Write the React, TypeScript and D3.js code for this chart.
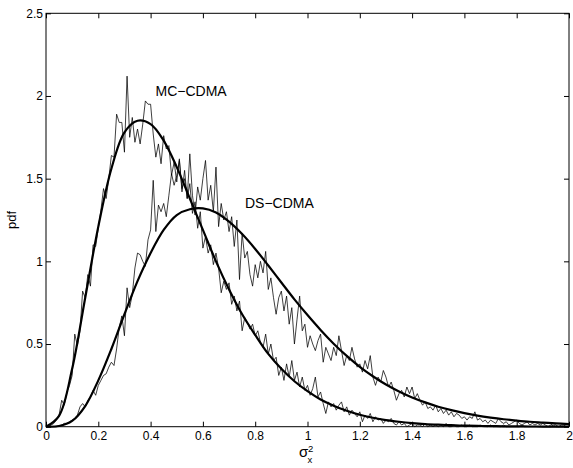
import * as d3 from "d3";
import { useRef, useEffect } from "react";

// x grid of the histogram bins and of the analytic curves
const binWidth = 0.01;
const curveStep = 0.05;

// analytic pdfs, sampled every 0.05 from 0 to 2
const mcTheory = [
  0, 0.066, 0.35, 0.78, 1.21, 1.56, 1.78, 1.85, 1.83, 1.73,
  1.57, 1.38, 1.19, 1.0, 0.83, 0.68, 0.555, 0.44, 0.35, 0.275,
  0.215, 0.165, 0.127, 0.096, 0.072, 0.054, 0.04, 0.03, 0.022, 0.016,
  0.012, 0.009, 0.0065, 0.0048, 0.0035, 0.0025, 0.0018, 0.0013, 0.0009, 0.0006,
  0.0004,
];
const dsTheory = [
  0, 0.004, 0.035, 0.125, 0.28, 0.47, 0.68, 0.88, 1.05, 1.19,
  1.28, 1.315, 1.32, 1.295, 1.24, 1.165, 1.075, 0.975, 0.872, 0.77,
  0.675, 0.585, 0.502, 0.428, 0.362, 0.305, 0.255, 0.213, 0.177, 0.147,
  0.121, 0.1, 0.082, 0.067, 0.055, 0.045, 0.037, 0.03, 0.025, 0.02,
  0.016,
];

// simulated histograms, one value per 0.01 bin from 0 to 1.99
const mcSim = [
  0, 0, 0.01, 0.02, 0.04, 0.07, 0.16, 0.13, 0.21, 0.25,
  0.31, 0.56, 0.49, 0.58, 0.82, 0.78, 0.92, 0.85, 1.1, 1.09,
  1.2, 1.31, 1.44, 1.38, 1.5, 1.64, 1.63, 1.89, 1.84, 1.84,
  1.66, 2.12, 1.75, 1.87, 1.72, 1.8, 1.71, 1.83, 1.97, 1.95,
  1.95, 1.77, 1.63, 1.71, 1.59, 1.76, 1.68, 1.7, 1.52, 1.6,
  1.48, 1.62, 1.42, 1.55, 1.38, 1.47, 1.29, 1.36, 1.2, 1.3,
  1.08, 1.15, 1.05, 1.1, 0.98, 1.05, 0.96, 0.81, 0.88, 0.83,
  0.87, 0.74, 0.79, 0.7, 0.76, 0.58, 0.66, 0.63, 0.59, 0.62,
  0.55, 0.58, 0.51, 0.48, 0.56, 0.44, 0.5, 0.4, 0.42, 0.31,
  0.36, 0.28, 0.38, 0.3, 0.4, 0.28, 0.33, 0.24, 0.3, 0.22,
  0.25, 0.19, 0.23, 0.3, 0.18, 0.21, 0.14, 0.08, 0.15, 0.12,
  0.14, 0.1, 0.13, 0.15, 0.09, 0.12, 0.07, 0.1, 0.08, 0.06,
  0.09, 0.03, 0.07, 0.05, 0.08, 0.03, 0.06, 0.04, 0.05, 0.02,
  0.04, 0.03, 0.05, 0.02, 0.01, 0.03, 0.01, 0.02, 0, 0.01,
  0.02, 0, 0.01, 0.01, 0, 0.02, 0, 0.01, 0, 0.01,
  0, 0.01, 0, 0.02, 0, 0, 0.01, 0, 0, 0.01,
  0, 0, 0.01, 0, 0, 0, 0.01, 0, 0, 0,
  0.01, 0, 0, 0, 0, 0.01, 0, 0, 0, 0,
  0, 0, 0.01, 0, 0, 0, 0, 0, 0, 0,
  0, 0, 0, 0, 0.01, 0, 0, 0, 0, 0,
];
const dsSim = [
  0, 0, 0, 0, 0, 0.005, 0.01, 0.02, 0.02, 0.03,
  0.04, 0.05, 0.07, 0.12, 0.14, 0.12, 0.16, 0.18, 0.22, 0.19,
  0.25, 0.28, 0.31, 0.32, 0.36, 0.39, 0.37, 0.47, 0.6, 0.67,
  0.55, 0.84, 0.72, 0.8, 0.96, 1.05, 1.04, 1.0, 0.97, 1.13,
  1.19, 1.49, 1.18, 1.34, 1.3, 1.35, 1.27, 1.4, 1.53, 1.46,
  1.52, 1.61, 1.44, 1.5, 1.38, 1.65, 1.4, 1.28, 1.45, 1.37,
  1.5, 1.61, 1.37, 1.46, 1.3, 1.57, 1.21, 1.35, 1.25, 1.3,
  1.18, 1.27, 1.09, 1.25, 0.89, 1.17, 1.02, 1.06, 0.92, 0.85,
  0.98, 0.9, 1.0, 0.93, 1.06, 0.83, 0.9, 0.78, 0.68, 0.78,
  0.82, 0.7, 0.79, 0.62, 0.72, 0.5, 0.65, 0.79, 0.58, 0.62,
  0.48, 0.55, 0.5, 0.46, 0.52, 0.56, 0.39, 0.48, 0.44, 0.4,
  0.48, 0.43, 0.55, 0.46, 0.37, 0.43, 0.4, 0.48, 0.41, 0.36,
  0.38, 0.33, 0.4, 0.35, 0.43, 0.3, 0.25, 0.3, 0.27, 0.34,
  0.3, 0.24, 0.27, 0.22, 0.16, 0.2, 0.22, 0.18, 0.24, 0.2,
  0.24, 0.17, 0.2, 0.16, 0.13, 0.15, 0.11, 0.12, 0.1, 0.13,
  0.09, 0.11, 0.08, 0.1, 0.07, 0.09, 0.06, 0.08, 0.07, 0.05,
  0.06, 0.04, 0.06, 0.05, 0.09, 0.04, 0.05, 0.03, 0.04, 0.02,
  0.04, 0.03, 0.02, 0.05, 0.03, 0.02, 0.03, 0.01, 0.02, 0.03,
  0.04, 0.02, 0.01, 0.02, 0.03, 0.01, 0.02, 0.01, 0.02, 0.01,
  0.02, 0.01, 0, 0.01, 0.02, 0.01, 0, 0.01, 0.01, 0,
];

const xTicks = [0, 0.2, 0.4, 0.6, 0.8, 1, 1.2, 1.4, 1.6, 1.8, 2];
const yTicks = [0, 0.5, 1, 1.5, 2, 2.5];

export default function App() {
  const ref = useRef<SVGSVGElement>(null);

  const width = 573;
  const height = 468;
  const marginLeft = 46;
  const marginRight = 4;
  const marginTop = 13.3;
  const marginBottom = 41.3;
  const font = "'Liberation Sans', Arial, Helvetica, sans-serif";

  useEffect(() => {
    const svg = d3.select(ref.current);
    svg.selectAll("*").remove();

    const x = d3.scaleLinear().domain([0, 2]).range([marginLeft, width - marginRight]);
    const y = d3.scaleLinear().domain([0, 2.5]).range([height - marginBottom, marginTop]);

    const simLine = d3.line<number>()
      .x((d, i) => x(i * binWidth))
      .y((d) => y(d));

    const theoryLine = d3.line<number>()
      .x((d, i) => x(i * curveStep))
      .y((d) => y(d))
      .curve(d3.curveCatmullRom);

    // noisy simulated histograms
    [mcSim, dsSim].forEach((s) => {
      svg.append("path")
        .datum(s)
        .attr("fill", "none")
        .attr("stroke", "#000")
        .attr("stroke-width", 0.75)
        .attr("d", simLine);
    });

    // analytic curves
    [mcTheory, dsTheory].forEach((s) => {
      svg.append("path")
        .datum(s)
        .attr("fill", "none")
        .attr("stroke", "#000")
        .attr("stroke-width", 2.2)
        .attr("d", theoryLine);
    });

    // axes box
    svg.append("rect")
      .attr("x", marginLeft)
      .attr("y", marginTop)
      .attr("width", width - marginLeft - marginRight)
      .attr("height", height - marginTop - marginBottom)
      .attr("fill", "none")
      .attr("stroke", "#000")
      .attr("stroke-width", 1);

    const styleAxis = (g: any) => {
      g.select(".domain").remove();
      g.selectAll("line").attr("stroke", "#000");
      g.selectAll("text").attr("fill", "#000").attr("font-family", font).attr("font-size", 12);
    };

    svg.append("g")
      .attr("transform", `translate(0,${height - marginBottom})`)
      .call(d3.axisBottom(x).tickValues(xTicks).tickSize(-5).tickPadding(5).tickFormat(d3.format("")))
      .call(styleAxis);

    svg.append("g")
      .attr("transform", `translate(0,${marginTop})`)
      .call(d3.axisTop(x).tickValues(xTicks).tickSize(-5).tickFormat(() => ""))
      .call(styleAxis);

    svg.append("g")
      .attr("transform", `translate(${marginLeft},0)`)
      .call(d3.axisLeft(y).tickValues(yTicks).tickSize(-5).tickPadding(3).tickFormat(d3.format("")))
      .call(styleAxis);

    svg.append("g")
      .attr("transform", `translate(${width - marginRight},0)`)
      .call(d3.axisRight(y).tickValues(yTicks).tickSize(-5).tickFormat(() => ""))
      .call(styleAxis);

    // curve labels
    svg.append("text")
      .attr("x", 155.5)
      .attr("y", 95.5)
      .attr("font-family", font)
      .attr("font-size", 14)
      .text("MC\u2212CDMA");

    svg.append("text")
      .attr("x", 245)
      .attr("y", 207.5)
      .attr("font-family", font)
      .attr("font-size", 14)
      .text("DS\u2212CDMA");

    // axis titles
    svg.append("text")
      .attr("transform", `translate(15.5,${(marginTop + height - marginBottom) / 2}) rotate(-90)`)
      .attr("text-anchor", "middle")
      .attr("font-family", font)
      .attr("font-size", 13)
      .text("pdf");

    const xt = svg.append("g").attr("font-family", font);
    xt.append("text").attr("x", 299).attr("y", 457).attr("font-size", 15).text("\u03c3");
    xt.append("text").attr("x", 308).attr("y", 451.5).attr("font-size", 9.5).text("2");
    xt.append("text").attr("x", 307.5).attr("y", 463).attr("font-size", 9.5).text("x");
  }, []);

  return (
    <svg
      ref={ref}
      width={width}
      height={height}
      style={{ position: "fixed", left: 0, top: 0, background: "#fff" }}
    />
  );
}
